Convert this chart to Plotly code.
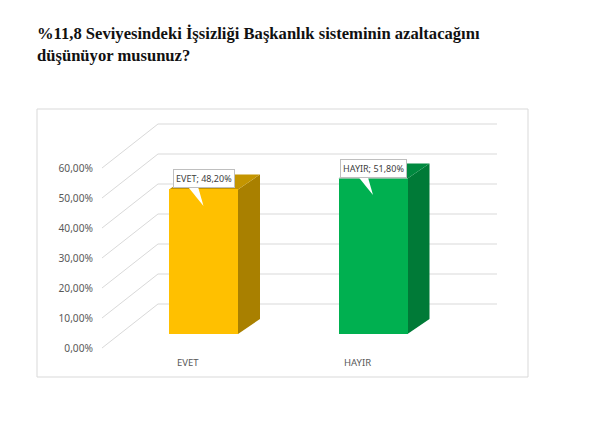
import plotly.graph_objects as go

# ---- data ----
categories = ["EVET", "HAYIR"]
values = [48.2, 51.8]
tick_values = [0, 10, 20, 30, 40, 50, 60]
title_text = "%11,8 Seviyesindeki İşsizliği Başkanlık sisteminin azaltacağını<br>düşünüyor musunuz?"

front_colors = ["#FFC000", "#00B050"]
side_colors = ["#A98000", "#007A37"]
top_colors = ["#C49500", "#00893F"]

# ---- layout geometry (pseudo-3D) ----
OFF = 8                 # page body margin
W, H = 589 - OFF, 440 - OFF
ML = 86
CAT_PX = 169.5          # pixels per category
CAT0_PX = 203.5 - OFF   # pixel of first category centre
ZERO_PX = 334 - OFF     # pixel of 0 on bar axis
PX_PER_UNIT = 3.0       # pixels per percent

x_range = [(ML - CAT0_PX) / CAT_PX, (W - CAT0_PX) / CAT_PX]
y_range = [-(H - ZERO_PX) / PX_PER_UNIT, ZERO_PX / PX_PER_UNIT]
front_shift = 14 / PX_PER_UNIT
y2_range = [y_range[0] + front_shift, y_range[1] + front_shift]

bar_width = 69 / CAT_PX
side_dx = 22 / CAT_PX
side_dy = 15 / PX_PER_UNIT

wall_front_x = (102 - OFF - CAT0_PX) / CAT_PX
wall_back_x0 = (158 - OFF - CAT0_PX) / CAT_PX
wall_back_x1 = (497 - OFF - CAT0_PX) / CAT_PX
wall_back_shift = 30 / PX_PER_UNIT

grid_color = "#D9D9D9"

def px_x(p):
    return (p - OFF - ML) / (W - ML)

def px_y(p):
    return 1 - (p - OFF) / H

def fmt(v):
    return f"{v:.2f}".replace(".", ",") + "%"

fig = go.Figure()

fig.add_trace(go.Bar(
    x=list(range(len(categories))), y=values, width=bar_width,
    marker=dict(color=front_colors, line=dict(width=0)),
    hoverinfo="skip", showlegend=False,
))
fig.add_trace(go.Scatter(x=[None], y=[None], yaxis="y2", showlegend=False, hoverinfo="skip"))

shapes = []
# chart frame
shapes.append(dict(type="rect", xref="paper", yref="paper",
                   x0=px_x(37), x1=px_x(528), y0=px_y(377), y1=px_y(109),
                   line=dict(color=grid_color, width=1), fillcolor="white", layer="below"))
# gridlines: slanted side + back wall
for v in tick_values:
    yf = v - front_shift
    yb = v + wall_back_shift
    shapes.append(dict(type="line", xref="x", yref="y", x0=wall_front_x, y0=yf,
                       x1=wall_back_x0, y1=yb, line=dict(color=grid_color, width=1), layer="below"))
    shapes.append(dict(type="line", xref="x", yref="y", x0=wall_back_x0, y0=yb,
                       x1=wall_back_x1, y1=yb, line=dict(color=grid_color, width=1), layer="below"))
# bar side and top faces
for i, v in enumerate(values):
    xl = i - bar_width / 2
    xr = i + bar_width / 2
    side = f"M {xr},0 L {xr + side_dx},{side_dy} L {xr + side_dx},{v + side_dy} L {xr},{v} Z"
    top = f"M {xl},{v} L {xl + side_dx},{v + side_dy} L {xr + side_dx},{v + side_dy} L {xr},{v} Z"
    shapes.append(dict(type="path", xref="x", yref="y", path=side,
                       fillcolor=side_colors[i], line=dict(width=0), layer="below"))
    shapes.append(dict(type="path", xref="x", yref="y", path=top,
                       fillcolor=top_colors[i], line=dict(width=0), layer="below"))
    # callout pointer
    b0 = i - 17 / CAT_PX
    b1 = i - 6 / CAT_PX
    ptr = f"M {b0},{v + 1.5} L {b1},{v + 1.5} L {i},{v - 5.5} Z"
    shapes.append(dict(type="path", xref="x", yref="y", path=ptr,
                       fillcolor="white", line=dict(width=0), layer="above"))

annotations = []
annotations.append(dict(xref="paper", yref="paper", x=px_x(35), y=px_y(22),
                        xanchor="left", yanchor="top", align="left", showarrow=False,
                        text=f"<b>{title_text}</b>",
                        font=dict(family="Liberation Serif", size=16.6, color="#111111")))
for i, (c, v) in enumerate(zip(categories, values)):
    annotations.append(dict(x=i, y=v + 3.5, xref="x", yref="y", showarrow=False,
                            text=f"{c}; {fmt(v)}", bgcolor="white",
                            bordercolor="#BFBFBF", borderwidth=1, borderpad=2,
                            font=dict(family="Noto Sans", size=9, color="#404040")))
    annotations.append(dict(x=i - 16 / CAT_PX, y=-28 / PX_PER_UNIT, xref="x", yref="y",
                            showarrow=False, text=c,
                            font=dict(family="Noto Sans", size=9.5, color="#595959")))

fig.update_layout(
    width=W, height=H,
    margin=dict(l=ML, r=0, t=0, b=0),
    paper_bgcolor="white", plot_bgcolor="rgba(0,0,0,0)",
    xaxis=dict(range=x_range, visible=False, fixedrange=True),
    yaxis=dict(range=y_range, visible=False, fixedrange=True),
    yaxis2=dict(range=y2_range, overlaying="y", side="left", anchor="x",
                tickvals=tick_values, ticktext=[fmt(v) for v in tick_values],
                showgrid=False, zeroline=False, showline=False, ticks="",
                tickfont=dict(family="Noto Sans", size=10.2, color="#595959"),
                automargin=False, fixedrange=True),
    shapes=shapes, annotations=annotations,
    bargap=0, showlegend=False,
)

fig.write_html("out.html")
